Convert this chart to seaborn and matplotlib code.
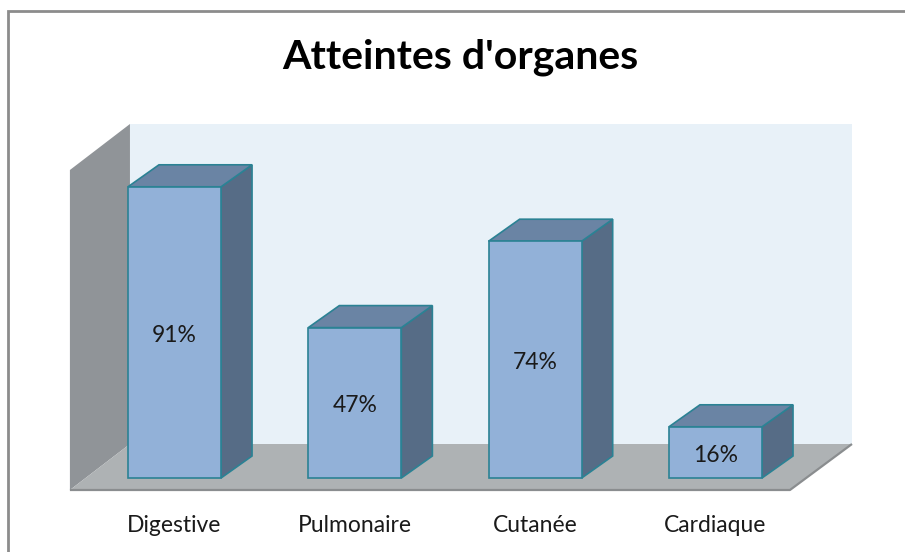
import numpy as np
import pandas as pd
import seaborn as sns
import matplotlib.pyplot as plt
from matplotlib.patches import Polygon
from matplotlib.lines import Line2D

# ---- data ----
categories = ["Digestive", "Pulmonaire", "Cutanée", "Cardiaque"]
values = [91, 47, 74, 16]
value_labels = ["91%", "47%", "74%", "16%"]
title = "Atteintes d'organes"

# ---- style ----
FRONT = "#92B1D8"
TOP = "#6A84A4"
SIDE = "#566C86"
EDGE = "#2B8294"
BACKWALL = "#E8F1F8"
SIDEWALL = "#909498"
FLOOR = "#AEB2B4"
FLOOR_EDGE = "#8A8D8F"

sns.set_theme(style="white")
plt.rcParams['font.family'] = ['Lato', 'DejaVu Sans']

fig = plt.figure(figsize=(9.05, 5.52), dpi=100)
ax = fig.add_axes([0, 0, 1, 1])

df = pd.DataFrame({"cat": categories, "val": values})
sns.barplot(data=df, x="cat", y="val", order=categories, width=0.516,
            color=FRONT, saturation=1, edgecolor=EDGE, linewidth=1.2,
            ax=ax, zorder=6)

ax.set_xlim(-0.9677, 4.051)
ax.set_ylim(-23.125, 149.375)
ax.axis("off")

# 3D geometry (depth offsets in data units)
DX, DY = 0.172, 6.875          # bar depth
YMAX = 100
fl_front_y, fl_back_y = -3.75, 10.625
fl_front_x0, fl_back_x0 = -0.58, -0.247
fl_front_x1, fl_back_x1 = 3.413, 3.757

# back wall
ax.add_patch(Polygon([(fl_back_x0, fl_back_y), (fl_back_x1, fl_back_y),
                      (fl_back_x1, fl_back_y + YMAX), (fl_back_x0, fl_back_y + YMAX)],
                     closed=True, facecolor=BACKWALL, edgecolor="none", zorder=1))
# left wall
ax.add_patch(Polygon([(fl_front_x0, fl_front_y), (fl_front_x0, fl_front_y + YMAX),
                      (fl_back_x0, fl_back_y + YMAX), (fl_back_x0, fl_back_y)],
                     closed=True, facecolor=SIDEWALL, edgecolor="none", zorder=2))
# floor
ax.add_patch(Polygon([(fl_front_x0, fl_front_y), (fl_front_x1, fl_front_y),
                      (fl_back_x1, fl_back_y), (fl_back_x0, fl_back_y)],
                     closed=True, facecolor=FLOOR, edgecolor="none", zorder=2))
ax.plot([fl_front_x0, fl_front_x1, fl_back_x1], [fl_front_y, fl_front_y, fl_back_y],
        color=FLOOR_EDGE, lw=1.6, zorder=3, solid_capstyle="butt")

# 3D faces of bars
bars = [q for q in ax.patches if q.get_zorder() == 6]
for p in bars:
    x0 = p.get_x()
    x1 = x0 + p.get_width()
    h = p.get_height()
    ax.add_patch(Polygon([(x1, 0), (x1, h), (x1 + DX, h + DY), (x1 + DX, DY)],
                         closed=True, facecolor=SIDE, edgecolor=EDGE, lw=1.2, zorder=5))
    ax.add_patch(Polygon([(x0, h), (x0 + DX, h + DY), (x1 + DX, h + DY), (x1, h)],
                         closed=True, facecolor=TOP, edgecolor=EDGE, lw=1.2, zorder=5))

# labels
for i, (v, lab) in enumerate(zip(values, value_labels)):
    ax.text(i, v / 2 - 1.0, lab, ha="center", va="center", fontsize=16.5,
            color="#1a1a1a", zorder=8)
for i, c in enumerate(categories):
    ax.text(i, -14.8, c, ha="center", va="center", fontsize=16.5,
            color="#1a1a1a", zorder=8)

fig.text(460 / 905, 1 - 68 / 552, title, ha="center", va="baseline",
         fontsize=29.5, fontweight="bold", color="#000000")

# outer border (left and top)
bx, by = 8 / 905, 1 - 11 / 552
fig.add_artist(Line2D([bx, bx, 1.0], [0.0, by, by], transform=fig.transFigure,
                      color="#8C8C8C", lw=2.0, solid_joinstyle="miter"))

fig.savefig("out.png", dpi=100, facecolor="white")
